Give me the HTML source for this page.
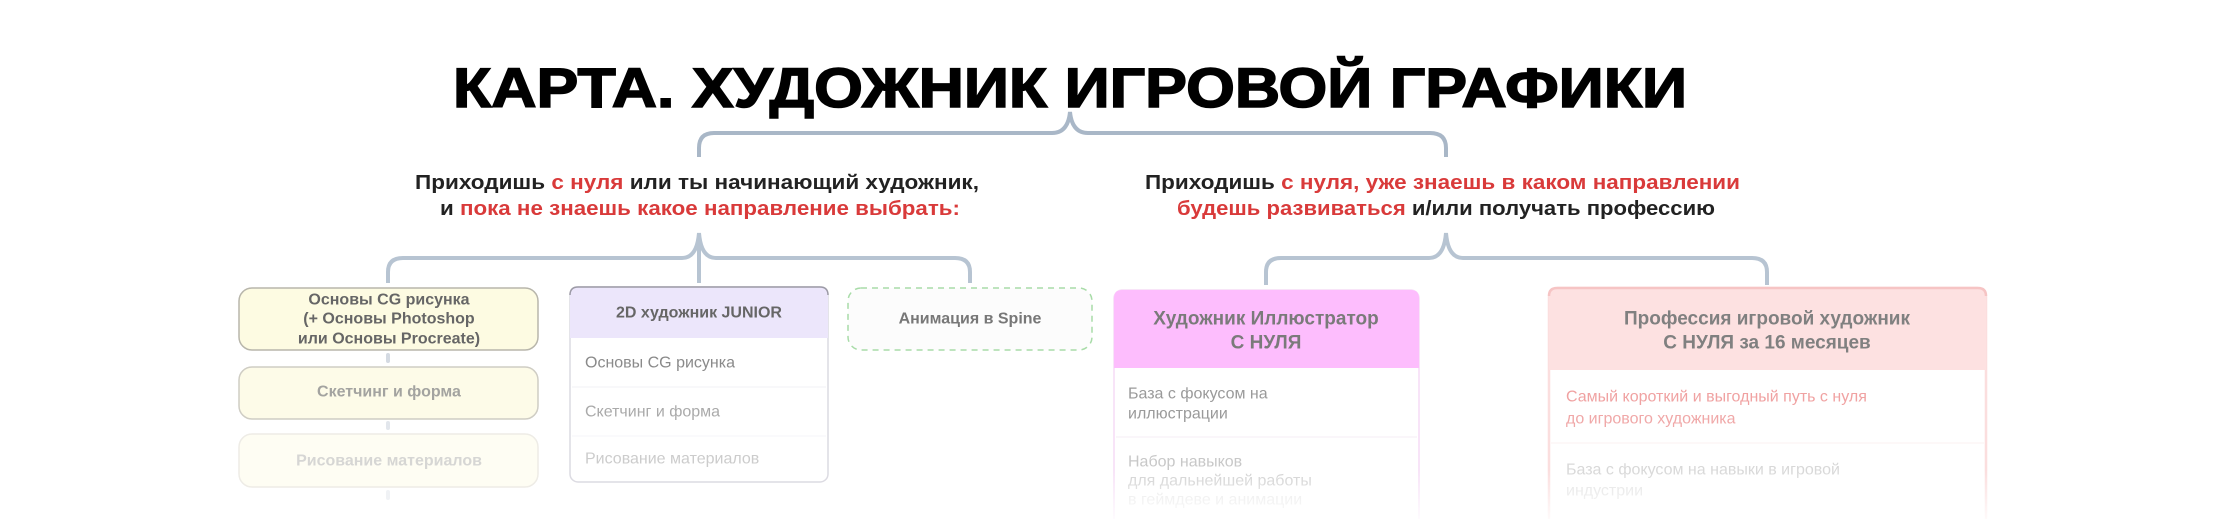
<!DOCTYPE html>
<html><head><meta charset="utf-8"><style>
html,body{margin:0;padding:0;background:#fff;width:2220px;height:519px;overflow:hidden}
svg{display:block}
text{font-family:"Liberation Sans","DejaVu Sans",sans-serif}
</style></head><body>
<svg width="2220" height="519" viewBox="0 0 2220 519" xmlns="http://www.w3.org/2000/svg">
<defs>
<linearGradient id="fadeY" x1="0" y1="0" x2="0" y2="1">
<stop offset="0" stop-color="#fff" stop-opacity="0"/><stop offset="1" stop-color="#fff" stop-opacity="0.85"/>
</linearGradient>
</defs>
<!-- Title -->
<text x="453" y="107" font-size="56" font-weight="900" fill="#000" textLength="1234" lengthAdjust="spacingAndGlyphs" stroke="#000" stroke-width="1.5">КАРТА. ХУДОЖНИК ИГРОВОЙ ГРАФИКИ</text>
<!-- top brace -->
<path d="M699 157 V148 Q699 133 714 133 H1052 Q1068 133 1070 112 Q1072 133 1088 133 H1430 Q1446 133 1446 148 V157" fill="none" stroke="#a9b7c7" stroke-width="4"/>
<!-- subtitle left -->
<g font-size="20" font-weight="bold" dominant-baseline="central">
<text x="415" y="183" textLength="564" lengthAdjust="spacingAndGlyphs" fill="#222">Приходишь <tspan fill="#d93a3a">с нуля</tspan> или ты начинающий художник,</text>
<text x="440" y="209" textLength="520" lengthAdjust="spacingAndGlyphs" fill="#222">и <tspan fill="#d93a3a">пока не знаешь какое направление выбрать:</tspan></text>
<text x="1145" y="183" textLength="595" lengthAdjust="spacingAndGlyphs" fill="#222">Приходишь <tspan fill="#d93a3a">с нуля, уже знаешь в каком направлении</tspan></text>
<text x="1177" y="209" textLength="538" lengthAdjust="spacingAndGlyphs" fill="#d93a3a">будешь развиваться <tspan fill="#222">и/или получать профессию</tspan></text>
</g>
<!-- lower braces -->
<path d="M388 283 V272 Q388 258 403 258 H682 Q697 258 699 233 Q701 258 716 258 H955 Q970 258 970 272 V283" fill="none" stroke="#b7c4d2" stroke-width="4"/>
<path d="M699 236 V283" stroke="#b7c4d2" stroke-width="4"/>
<path d="M1266 285 V272 Q1266 258 1281 258 H1429 Q1444 258 1446 233 Q1448 258 1463 258 H1752 Q1767 258 1767 272 V285" fill="none" stroke="#b7c4d2" stroke-width="4"/>
<!-- Box A -->
<rect x="239" y="288" width="299" height="62" rx="13" fill="#fdfbe2" stroke="#b8b6ab" stroke-width="1.5"/>
<g font-size="16" font-weight="bold" text-anchor="middle" dominant-baseline="central">
<text x="389" y="300" fill="#666">Основы CG рисунка</text>
<text x="389" y="319" fill="#666">(+ Основы Photoshop</text>
<text x="389" y="339" fill="#666">или Основы Procreate)</text>
</g>
<rect x="386" y="353" width="4" height="10" rx="2" fill="#d4dae2"/>
<rect x="239" y="367" width="299" height="52" rx="13" fill="#fdfbe8" stroke="#cfcdc4" stroke-width="1.5"/>
<text x="389" y="392" font-size="16" font-weight="bold" text-anchor="middle" dominant-baseline="central" fill="#a3a3a0">Скетчинг и форма</text>
<rect x="386" y="421" width="4" height="9" rx="2" fill="#e2e6ec"/>
<rect x="239" y="434" width="299" height="53" rx="13" fill="#fefdf3" stroke="#eeece6" stroke-width="1.5"/>
<text x="389" y="461" font-size="16" font-weight="bold" text-anchor="middle" dominant-baseline="central" fill="#d6d6d4">Рисование материалов</text>
<rect x="386" y="490" width="4" height="10" rx="2" fill="#f0f2f5"/>
<!-- Box 2D -->
<rect x="570" y="287" width="258" height="195" rx="8" fill="#fff" stroke="#dcdbe2" stroke-width="1.5"/>
<path d="M570 338 V295 Q570 287 578 287 H820 Q828 287 828 295 V338 Z" fill="#ece6fb"/>
<path d="M570 295 Q570 287 578 287 H820 Q828 287 828 295" fill="none" stroke="#9c9aa6" stroke-width="1.5"/>
<text x="699" y="313" font-size="16" font-weight="bold" text-anchor="middle" dominant-baseline="central" fill="#666">2D художник JUNIOR</text>
<line x1="572" y1="387" x2="826" y2="387" stroke="#f2f2f4"/>
<line x1="572" y1="436" x2="826" y2="436" stroke="#f6f6f8"/>
<g font-size="16" dominant-baseline="central">
<text x="585" y="363" fill="#8a8a8a">Основы CG рисунка</text>
<text x="585" y="412" fill="#aaa">Скетчинг и форма</text>
<text x="585" y="459" fill="#ccc">Рисование материалов</text>
</g>
<!-- Spine -->
<rect x="848" y="288" width="244" height="62" rx="13" fill="#fcfcfc" stroke="#a8dca8" stroke-width="1.5" stroke-dasharray="6 5"/>
<text x="970" y="319" font-size="16" font-weight="bold" text-anchor="middle" dominant-baseline="central" fill="#777">Анимация в Spine</text>
<!-- Illustrator -->
<rect x="1114" y="290" width="305" height="240" rx="9" fill="#fff" stroke="#f8e4f8" stroke-width="2"/>
<path d="M1114 368 V298 Q1114 290 1122 290 H1411 Q1419 290 1419 298 V368 Z" fill="#fdbdfd"/>
<g font-size="19" font-weight="bold" text-anchor="middle" dominant-baseline="central" fill="#7a7a7a">
<text x="1266" y="319">Художник Иллюстратор</text>
<text x="1266" y="343">С НУЛЯ</text>
</g>
<line x1="1116" y1="437" x2="1417" y2="437" stroke="#f6eef6"/>
<g font-size="16" dominant-baseline="central">
<text x="1128" y="394" fill="#9a9a9a">База с фокусом на</text>
<text x="1128" y="414" fill="#9a9a9a">иллюстрации</text>
<text x="1128" y="462" fill="#c8c8c8">Набор навыков</text>
<text x="1128" y="481" fill="#d2d2d2">для дальнейшей работы</text>
<text x="1128" y="500" fill="#e6e6e6">в геймдеве и анимации</text>
</g>
<!-- Profession -->
<rect x="1549" y="288" width="437" height="245" rx="9" fill="#fff" stroke="#fbdede" stroke-width="2.5"/>
<path d="M1549 370 V296 Q1549 288 1557 288 H1978 Q1986 288 1986 296 V370 Z" fill="#fde1e1"/>
<path d="M1549 296 Q1549 288 1557 288 H1978 Q1986 288 1986 296" fill="none" stroke="#f6c4c4" stroke-width="2.5"/>
<g font-size="19" font-weight="bold" text-anchor="middle" dominant-baseline="central" fill="#808080">
<text x="1767" y="319">Профессия игровой художник</text>
<text x="1767" y="343">С НУЛЯ за 16 месяцев</text>
</g>
<line x1="1551" y1="443" x2="1984" y2="443" stroke="#fbf0f0"/>
<g font-size="16" dominant-baseline="central">
<text x="1566" y="397" fill="#f0a2a2">Самый короткий и выгодный путь с нуля</text>
<text x="1566" y="419" fill="#f0a8a8">до игрового художника</text>
<text x="1566" y="470" fill="#d8d8d8">База с фокусом на навыки в игровой</text>
<text x="1566" y="491" fill="#e2e2e2">индустрии</text>
</g>
<rect x="1100" y="470" width="900" height="49" fill="url(#fadeY)"/>
</svg>
</body></html>
